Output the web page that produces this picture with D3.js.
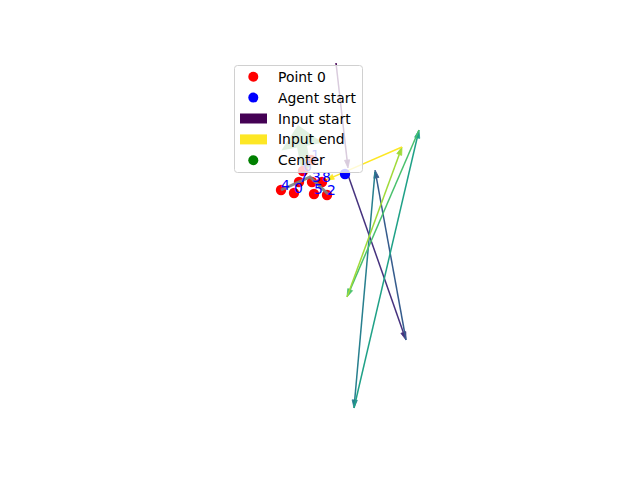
<!DOCTYPE html>
<html>
<head>
<meta charset="utf-8">
<script src="https://cdn.jsdelivr.net/npm/d3@7"></script>
<style>
  body { margin: 0; background: #fff; }
  svg { display: block; }
</style>
</head>
<body>
<div id="chart"></div>
<script>
// points (data units)
const pointLabels = ["0", "1", "2", "3", "4", "5", "6", "7", "8"];
const pointX = [-0.65, -0.225, 0.175, -0.2, -0.975, -0.15, -0.425, -0.525, 0.05];
const pointY = [1.175, 2.0, 1.125, 1.45, 1.25, 1.15, 1.725, 1.45, 1.45];

const agentX = 0.625, agentY = 1.65;

// input arrows, start -> end
const arrowX0 = [0.4, 0.7, 2.15, 1.375, 0.85, 2.475, 0.675, 2.05];
const arrowY0 = [4.425, 1.625, -2.5, 1.7, -4.2, 2.75, -1.425, 2.325];
const arrowX1 = [0.7, 2.15, 1.375, 0.85, 2.475, 0.675, 2.05, 0.15];
const arrowY1 = [1.8, -2.5, 1.75, -4.2, 2.75, -1.425, 2.325, 1.5];

// grey path through the cluster
const pathX = [-0.975, -0.25, 0.2];
const pathY = [1.25, 1.575, 1.15];

// center and its direction arrow
const centerX = -0.35, centerY = 1.8;
const centerTipX = -0.55, centerTipY = 2.875;

const legendLabels = ["Point 0", "Agent start", "Input start", "Input end", "Center"];

const W = 640, H = 480;
const x = d3.scaleLinear().domain([-8, 8]).range([0, W]);
const y = d3.scaleLinear().domain([-6, 6]).range([H, 0]);

const svg = d3.select("#chart").append("svg")
  .attr("width", W).attr("height", H)
  .style("font-family", "'DejaVu Sans', sans-serif");

// big translucent center arrow
function fatArrow(ax, ay, bx, by, shaftW, headW, headL) {
  const dx = bx - ax, dy = by - ay, len = Math.hypot(dx, dy);
  const ux = dx / len, uy = dy / len, px = -uy, py = ux;
  const hx = bx - ux * headL, hy = by - uy * headL;
  return [
    [ax + px * shaftW / 2, ay + py * shaftW / 2],
    [hx + px * shaftW / 2, hy + py * shaftW / 2],
    [hx + px * headW / 2, hy + py * headW / 2],
    [bx, by],
    [hx - px * headW / 2, hy - py * headW / 2],
    [hx - px * shaftW / 2, hy - py * shaftW / 2],
    [ax - px * shaftW / 2, ay - py * shaftW / 2]
  ];
}
svg.append("path")
  .attr("d", d3.line()(fatArrow(x(centerX), y(centerY), x(centerTipX), y(centerTipY), 10, 42, 22)) + "Z")
  .attr("fill", "green").attr("opacity", 0.6);
svg.append("circle")
  .attr("cx", x(centerX)).attr("cy", y(centerY)).attr("r", 5)
  .attr("fill", "green").attr("opacity", 0.3);

// input arrows
const n = arrowX0.length;
const gArrows = svg.append("g");
for (let i = 0; i < n; i++) {
  const c = d3.interpolateViridis(i / (n - 1));
  const ax = x(arrowX0[i]), ay = y(arrowY0[i]);
  const bx = x(arrowX1[i]), by = y(arrowY1[i]);
  const len = Math.hypot(bx - ax, by - ay);
  const ux = (bx - ax) / len, uy = (by - ay) / len;
  const hl = 8, hw = 2.6;
  const hx = bx - ux * hl, hy = by - uy * hl;
  gArrows.append("line")
    .attr("x1", ax).attr("y1", ay).attr("x2", hx).attr("y2", hy)
    .attr("stroke", c).attr("stroke-width", 1.5);
  gArrows.append("path")
    .attr("d", d3.line()([[bx, by], [hx - uy * hw, hy + ux * hw], [hx + uy * hw, hy - ux * hw]]) + "Z")
    .attr("fill", c).attr("stroke", c).attr("stroke-width", 0.8);
}

// red points
svg.append("g").selectAll("circle")
  .data(pointX)
  .enter()
  .append("circle")
  .attr("cx", d => x(d))
  .attr("cy", (d, i) => y(pointY[i]))
  .attr("r", 5.2)
  .attr("fill", "red");

// grey path
svg.append("path")
  .attr("d", d3.line()(pathX.map((d, i) => [x(d), y(pathY[i])])))
  .attr("fill", "none").attr("stroke", "grey").attr("stroke-width", 3)
  .attr("opacity", 0.9);

// labels
svg.append("g").selectAll("text")
  .data(pointLabels)
  .enter()
  .append("text")
  .attr("x", (d, i) => x(pointX[i]))
  .attr("y", (d, i) => y(pointY[i]))
  .attr("fill", "blue")
  .attr("font-size", "13.9px")
  .text(d => d);

// agent start
svg.append("circle")
  .attr("cx", x(agentX)).attr("cy", y(agentY)).attr("r", 5.2)
  .attr("fill", "blue");

// legend
const lg = svg.append("g").attr("transform", "translate(234,65)");
lg.append("rect")
  .attr("x", 0.5).attr("y", 0.5).attr("width", 128).attr("height", 107)
  .attr("rx", 3)
  .attr("fill", "white").attr("fill-opacity", 0.8)
  .attr("stroke", "#d0d0d0").attr("stroke-width", 1);

const legendColors = ["red", "blue", d3.interpolateViridis(0), d3.interpolateViridis(1), "green"];
const legendKind = ["dot", "dot", "rect", "rect", "dot"];
legendLabels.forEach((lab, i) => {
  const cy = 11.7 + i * 20.9;
  if (legendKind[i] === "dot") {
    lg.append("circle").attr("cx", 19.3).attr("cy", cy).attr("r", 5)
      .attr("fill", legendColors[i]);
  } else {
    lg.append("rect").attr("x", 6).attr("y", cy - 5).attr("width", 27).attr("height", 10)
      .attr("fill", legendColors[i]);
  }
  lg.append("text")
    .attr("x", 44).attr("y", cy)
    .attr("dy", "0.36em")
    .attr("font-size", "13.9px")
    .attr("fill", "#000")
    .text(lab);
});
</script>
</body>
</html>
